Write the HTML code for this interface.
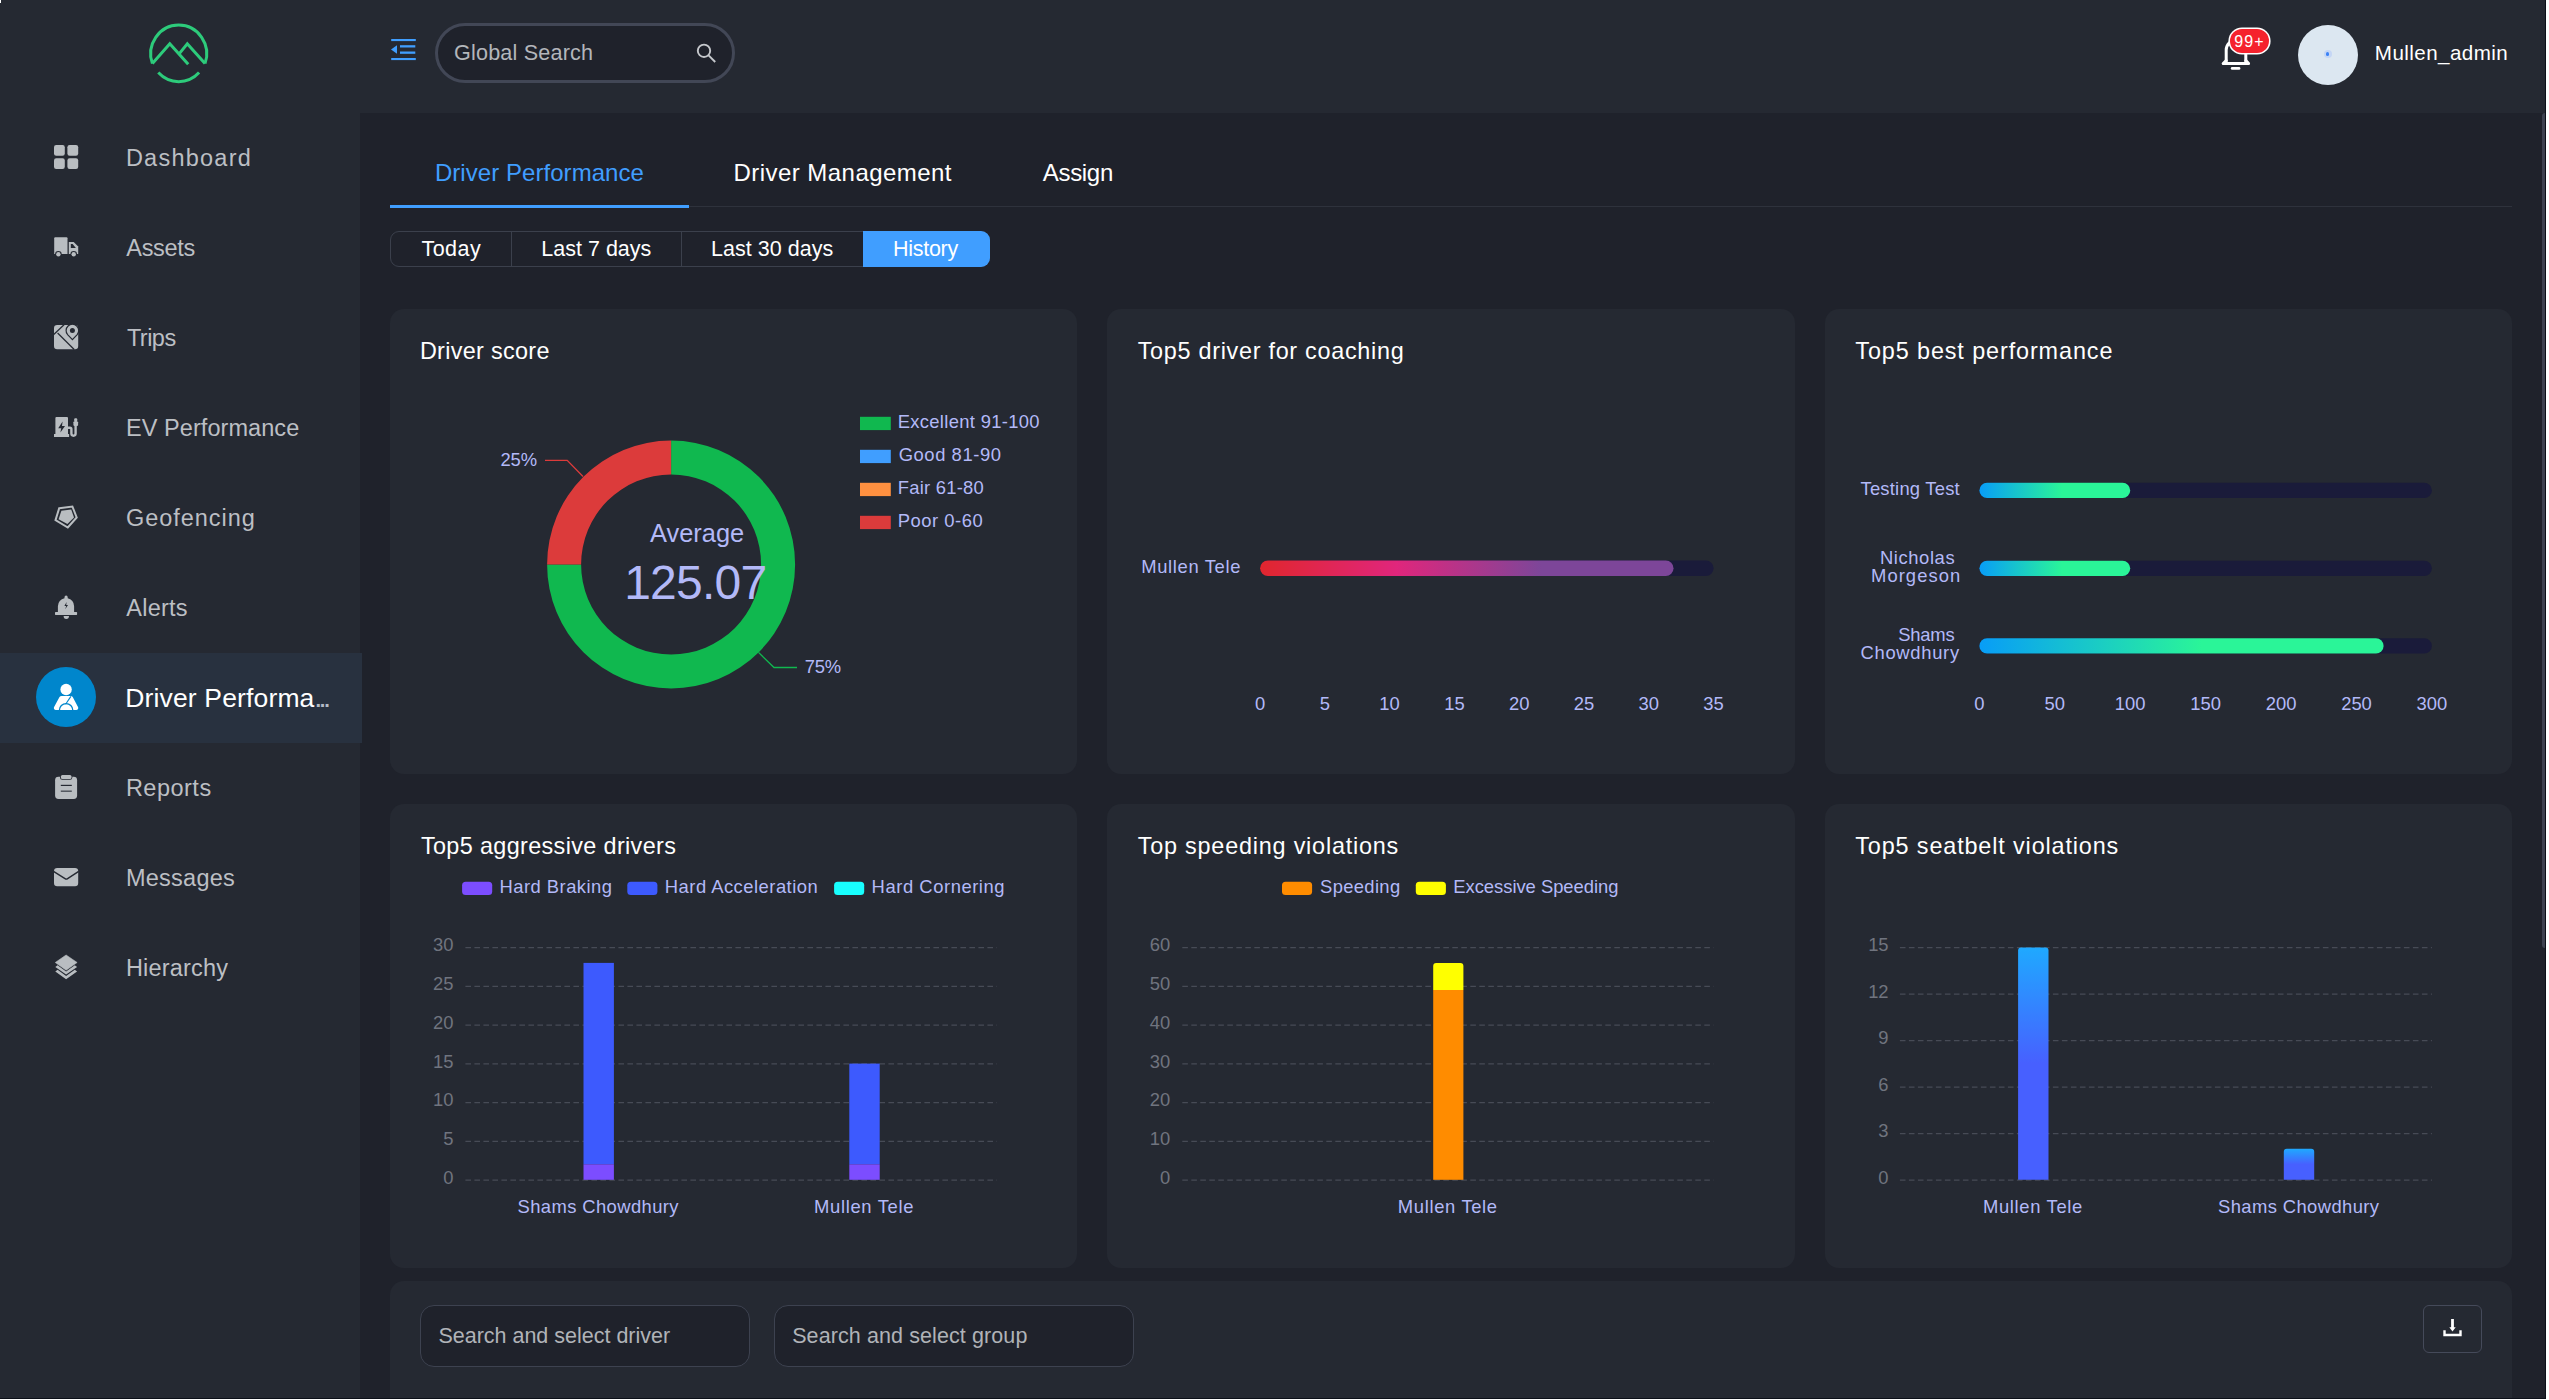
<!DOCTYPE html>
<html lang="en">
<head>
<meta charset="utf-8">
<title>Driver Performance</title>
<style>
html,body{margin:0;padding:0;background:#fff;}
body{font-family:"Liberation Sans", sans-serif;overflow:hidden;}
#app{position:absolute;left:0;top:0;width:2546px;height:1399px;background:#1f222b;overflow:hidden;}
#sidebar{position:absolute;left:0;top:0;width:360px;height:1399px;background:#252932;}
.hdr-bg{position:absolute;left:360px;top:0;width:2186px;height:113px;background:#252932;}
.abs{position:absolute;}
ul.menu,ul.menu li{list-style:none;margin:0;padding:0;}
h1,h2,h3,p{margin:0;padding:0;font-weight:400;}
.card{position:absolute;background:#252932;border-radius:14px;}
.menu-active{position:absolute;left:0;top:653px;width:362px;height:90px;background:#28313f;}
svg{position:absolute;overflow:visible;}
svg text{font-family:"Liberation Sans", sans-serif;}
.inp{position:absolute;box-sizing:border-box;border:1px solid #3d4250;border-radius:14px;background:#1f222b;}
</style>
</head>
<body>
<div id="app">
<nav id="sidebar">
<div class="brand"><svg class="logo" style="left:140px;top:14px" width="78" height="78" viewBox="140 14 78 78" fill="none" stroke="#2dcb7b" stroke-width="3" stroke-linejoin="miter">
<path d="M152.4 63.6 A28 28.7 0 1 1 205.0 63.6"/>
<path d="M158.3 72.6 A28 28.7 0 0 0 199.1 72.6"/>
<path d="M152.4 63.6 L169.8 43.8 L188.2 64.2"/>
<path d="M179.3 53.6 L187.3 43.8 L205.0 63.6"/>
</svg></div>
<ul class="menu">
<li><svg class="mi" style="left:42px;top:133px" width="48" height="48" viewBox="42 133 48 48" fill="#b9bdc1"><rect x="54" y="145" width="10.8" height="10.8" rx="2.2"/><rect x="67.4" y="145" width="10.8" height="10.8" rx="2.2"/><rect x="54" y="158.2" width="10.8" height="10.8" rx="2.2"/><rect x="67.4" y="158.2" width="10.8" height="10.8" rx="2.2"/></svg><span style="position:absolute;left:125.9px;top:147px;font-size:23.5px;line-height:23.5px;letter-spacing:1.238px;color:#bcbfc4;white-space:nowrap">Dashboard</span></li>
<li><svg class="mi" style="left:42px;top:223px" width="48" height="48" viewBox="42 223 48 48" fill="#b9bdc1"><path d="M54.2 238.2 a1 1 0 0 1 1 -1 h11.3 a1 1 0 0 1 1 1 V254.1 H54.2 Z"/>
<path d="M68.8 242 H73.7 L78.2 246.4 V254.1 H68.8 Z"/>
<path d="M70.8 244.1 H72.6 L75.9 247.9 H70.8 Z" fill="#252932"/>
<circle cx="58.4" cy="254.3" r="3.3" fill="#252932"/><circle cx="58.4" cy="254.3" r="2.2"/>
<circle cx="73.7" cy="254.3" r="3.3" fill="#252932"/><circle cx="73.7" cy="254.3" r="2.2"/></svg><span style="position:absolute;left:126.3px;top:237px;font-size:23.5px;line-height:23.5px;letter-spacing:-0.315px;color:#bcbfc4;white-space:nowrap">Assets</span></li>
<li><svg class="mi" style="left:42px;top:313px" width="48" height="48" viewBox="42 313 48 48" fill="#b9bdc1"><rect x="54" y="325" width="24.2" height="24.2" rx="3.2"/>
<path d="M53.5 334.8 L64.3 324.5" stroke="#252932" stroke-width="1.2" fill="none"/>
<path d="M57.6 333 L74.2 349.5" stroke="#252932" stroke-width="1.2" fill="none"/>
<path d="M72.4 339.6 L67.6 334.6 A6.3 6.3 0 1 1 77.2 334.6 Z" stroke="#252932" stroke-width="1.2"/>
<circle cx="72.4" cy="330.6" r="2.5" fill="#252932"/></svg><span style="position:absolute;left:126.9px;top:327px;font-size:23.5px;line-height:23.5px;letter-spacing:-0.525px;color:#bcbfc4;white-space:nowrap">Trips</span></li>
<li><svg class="mi" style="left:42px;top:403px" width="48" height="48" viewBox="42 403 48 48" fill="#b9bdc1"><path d="M55.4 418 a1 1 0 0 1 1 -1 h10.6 a1 1 0 0 1 1 1 V434.1 h1.1 V437 H54 V434.1 h1.4 Z"/>
<path d="M62.6 421.6 L58.2 428.2 H61.2 L60.4 432.6 L65 426 H62 Z" fill="#252932"/>
<path d="M68 427.7 H69.8 a1.6 1.6 0 0 1 1.6 1.6 V433.6 a2.1 2.1 0 0 0 4.2 0 V425.5" fill="none" stroke="#b9bdc1" stroke-width="2.4"/>
<rect x="73.4" y="421.4" width="4.7" height="4.5" rx="0.8"/>
<rect x="74.2" y="418.3" width="3" height="3.6" rx="1"/></svg><span style="position:absolute;left:125.9px;top:417px;font-size:23.5px;line-height:23.5px;letter-spacing:0.074px;color:#bcbfc4;white-space:nowrap">EV Performance</span></li>
<li><svg class="mi" style="left:42px;top:493px" width="48" height="48" viewBox="42 493 48 48" fill="#b9bdc1"><path d="M59.2 508.2 L72.4 506.5 L76.7 517.5 L67.8 527.5 L55.5 520.1 Z" fill="none" stroke="#b9bdc1" stroke-width="2"/>
<path d="M61.4 510.8 L71.2 509.5 L74 517.4 L67.4 524 L58.6 519.3 Z"/></svg><span style="position:absolute;left:125.9px;top:507px;font-size:23.5px;line-height:23.5px;letter-spacing:0.964px;color:#bcbfc4;white-space:nowrap">Geofencing</span></li>
<li><svg class="mi" style="left:42px;top:583px" width="48" height="48" viewBox="42 583 48 48" fill="#b9bdc1"><path d="M57.9 612.5 V606.2 a8.1 8.1 0 0 1 6.6 -8 v-1 a1.6 1.6 0 0 1 3.2 0 v1 a8.1 8.1 0 0 1 6.4 8 V612.5 Z"/>
<rect x="55" y="612.1" width="22.1" height="2.8" rx="0.6"/>
<path d="M63.6 616 H69 a2.7 2.9 0 0 1 -5.4 0 Z"/>
<path d="M66.6 602 L64.4 606 H66.2 L65.2 609.2 L68 605 H66.2 Z" fill="#252932"/></svg><span style="position:absolute;left:126.3px;top:597px;font-size:23.5px;line-height:23.5px;letter-spacing:0.236px;color:#bcbfc4;white-space:nowrap">Alerts</span></li>
<li class="active"><div class="menu-active"></div><div class="abs" style="left:36px;top:667px;width:60px;height:60px;border-radius:50%;background:#0086cc"></div><svg class="mi" style="left:42px;top:673px" width="48" height="48" viewBox="42 673 48 48" fill="#b9bdc1"><g fill="#fff"><circle cx="66.1" cy="689.5" r="5.7"/>
<path d="M61.6 695.9 H70.6 a2.4 2.4 0 0 1 2.1 1.2 L78 707 a2 2 0 0 1 -1.8 3 H55.9 a2 2 0 0 1 -1.8 -3 L59.5 697.1 a2.4 2.4 0 0 1 2.1 -1.2 Z"/>
<path d="M59.4 710.3 a6.7 6.7 0 0 1 13.4 0" fill="none" stroke="#0086cc" stroke-width="1.3"/>
<path d="M70.9 696.4 L65.6 704.2" stroke="#0086cc" stroke-width="1.1" fill="none"/></g></svg><span style="position:absolute;left:125.3px;top:685px;font-size:26.5px;line-height:26.5px;letter-spacing:0.146px;color:#ffffff;white-space:nowrap">Driver Performa</span><span style="position:absolute;left:315.4px;top:690px;font-size:20px;line-height:20px;letter-spacing:-1.107px;color:#b4bbc5;font-weight:700;white-space:nowrap">...</span></li>
<li><svg class="mi" style="left:42px;top:763px" width="48" height="48" viewBox="42 763 48 48" fill="#b9bdc1"><rect x="55.1" y="776.8" width="22" height="22.2" rx="3.4"/>
<rect x="60" y="774.3" width="12.3" height="5.4" rx="2.2" fill="#252932"/>
<rect x="60.9" y="775.1" width="10.6" height="3.8" rx="1.5"/>
<rect x="60.8" y="784.8" width="11" height="1.2" fill="#252932"/>
<rect x="60.8" y="790.5" width="11" height="1.4" fill="#4a4e57"/></svg><span style="position:absolute;left:125.9px;top:777px;font-size:23.5px;line-height:23.5px;letter-spacing:0.494px;color:#bcbfc4;white-space:nowrap">Reports</span></li>
<li><svg class="mi" style="left:42px;top:853px" width="48" height="48" viewBox="42 853 48 48" fill="#b9bdc1"><rect x="54" y="867.9" width="24.2" height="18.3" rx="3.2"/>
<path d="M53.5 871.4 L65 878.7 a2.4 2.4 0 0 0 2.6 0 L78.7 871.4" fill="none" stroke="#252932" stroke-width="1.4"/></svg><span style="position:absolute;left:125.9px;top:867px;font-size:23.5px;line-height:23.5px;letter-spacing:0.264px;color:#bcbfc4;white-space:nowrap">Messages</span></li>
<li><svg class="mi" style="left:42px;top:943px" width="48" height="48" viewBox="42 943 48 48" fill="#b9bdc1"><path d="M66.1 955 L77.1 962.5 L66.1 970.2 L55.3 962.5 Z" stroke="#b9bdc1" stroke-width="0.6" stroke-linejoin="round"/>
<path d="M55.3 966.9 L57.6 965.3 L66.1 971.4 L74.8 965.3 L77.1 966.9 L66.1 974.6 Z"/>
<path d="M55.3 971.4 L57.6 969.8 L66.1 975.9 L74.8 969.8 L77.1 971.4 L66.1 979.2 Z"/></svg><span style="position:absolute;left:125.9px;top:957px;font-size:23.5px;line-height:23.5px;letter-spacing:0.187px;color:#bcbfc4;white-space:nowrap">Hierarchy</span></li>
</ul>
</nav>
<header id="header"><div class="hdr-bg"></div>
<svg style="left:385px;top:34px" width="40" height="32" viewBox="385 34 40 32" fill="#409eff">
<rect x="391.2" y="39" width="24.6" height="2.1"/>
<rect x="400" y="45.2" width="15.3" height="2.3"/>
<rect x="400" y="51.5" width="15.3" height="2.3"/>
<rect x="391.2" y="58" width="24.6" height="2.1"/>
<path d="M391 49.5 L397 45.2 V53.8 Z"/>
</svg>
<div class="abs" style="left:435px;top:23px;width:300px;height:60px;box-sizing:border-box;border:3px solid #424756;border-radius:30px;background:#1f222b"></div>
<span style="position:absolute;left:454.0px;top:42px;font-size:21.6px;line-height:21.6px;letter-spacing:0.181px;color:#b3b6bb;white-space:nowrap">Global Search</span>
<svg style="left:690px;top:38px" width="32" height="32" viewBox="690 38 32 32" fill="none" stroke="#c5c8cc" stroke-width="1.9">
<circle cx="704" cy="50.8" r="6.2"/><path d="M708.6 55.4 L715.2 62"/>
</svg>
<svg style="left:2215px;top:30px" width="50" height="46" viewBox="2215 30 50 46" fill="none" stroke="#fff" stroke-width="3" stroke-linejoin="round" stroke-linecap="round">
<path d="M2226.2 63.4 V50 a9.8 9.8 0 0 1 19.6 0 V63.4"/>
<path d="M2226.2 60.5 L2223.2 63.6 H2248.6 L2245.8 60.5"/>
<path d="M2232.2 68.4 H2239" stroke-width="2.8"/>
</svg>
<div class="abs" style="left:2229.6px;top:28.8px;width:39px;height:24px;border-radius:12px;background:#f5222d;box-shadow:0 0 0 1.6px #fff"></div>
<span style="position:absolute;left:2234.2px;top:34px;font-size:16px;line-height:16px;letter-spacing:1.152px;color:#ffffff;white-space:nowrap">99+</span>
<div class="abs" style="left:2298px;top:25px;width:60px;height:60px;border-radius:50%;background:#dce7f1"></div>
<div class="abs" style="left:2323.5px;top:50px;width:8px;height:8px;border-radius:50%;background:#c5d6f5"></div>
<div class="abs" style="left:2325.7px;top:52.2px;width:3.6px;height:3.6px;border-radius:50%;background:#3b82f6"></div>
<span style="position:absolute;left:2374.8px;top:43px;font-size:20.6px;line-height:20.6px;letter-spacing:0.431px;color:#ffffff;white-space:nowrap">Mullen_admin</span>
</header>
<div class="abs" style="left:2541.5px;top:113px;width:5px;height:835px;border-radius:3px 0 0 3px;background:#3d4250"></div>
<main id="main">
<div class="tabs" role="tablist">
<div class="abs" style="left:390px;top:206px;width:2122px;height:1px;background:#2e323c"></div>
<div class="abs" style="left:390px;top:205px;width:299px;height:3px;background:#409eff"></div>
<span style="position:absolute;left:434.9px;top:161px;font-size:24px;line-height:24px;letter-spacing:0.058px;color:#409eff;white-space:nowrap">Driver Performance</span>
<span style="position:absolute;left:733.6px;top:161px;font-size:24px;line-height:24px;letter-spacing:0.445px;color:#ffffff;white-space:nowrap">Driver Management</span>
<span style="position:absolute;left:1042.8px;top:161px;font-size:24px;line-height:24px;letter-spacing:-0.317px;color:#ffffff;white-space:nowrap">Assign</span>
</div>
<div class="range" role="radiogroup">
<div class="abs" style="left:390px;top:231px;width:600px;height:36px;box-sizing:border-box;border:1px solid #3b404c;border-radius:9px;"></div>
<div class="abs" style="left:510.5px;top:231px;width:1px;height:36px;background:#3b404c"></div>
<div class="abs" style="left:680.5px;top:231px;width:1px;height:36px;background:#3b404c"></div>
<div class="abs" style="left:862.5px;top:231px;width:127.5px;height:36px;background:#409eff;border-radius:0 9px 9px 0"></div>
<span style="position:absolute;left:421.4px;top:239px;font-size:21.5px;line-height:21.5px;letter-spacing:0.495px;color:#ffffff;white-space:nowrap">Today</span>
<span style="position:absolute;left:541.3px;top:239px;font-size:21.5px;line-height:21.5px;letter-spacing:0.009px;color:#ffffff;white-space:nowrap">Last 7 days</span>
<span style="position:absolute;left:711.0px;top:239px;font-size:21.5px;line-height:21.5px;letter-spacing:0.04px;color:#ffffff;white-space:nowrap">Last 30 days</span>
<span style="position:absolute;left:893.1px;top:239px;font-size:21.5px;line-height:21.5px;letter-spacing:-0.291px;color:#ffffff;white-space:nowrap">History</span>
</div>
<section class="panel">
<div class="card" style="left:390px;top:309px;width:687px;height:465px"></div>
<h3 style="position:absolute;left:419.9px;top:340px;font-size:23.4px;line-height:23.4px;letter-spacing:0.313px;color:#ffffff;white-space:nowrap">Driver score</h3>
<svg style="left:390px;top:310px" width="687" height="463" viewBox="390 310 687 463" >
<path d="M671.1 440.5 A124.0 124.0 0 1 1 547.1 564.5 L581.1 564.5 A90.0 90.0 0 1 0 671.1 474.5 Z" fill="#10b84f"/>
<path d="M547.1 564.5 A124.0 124.0 0 0 1 671.1 440.5 L671.1 474.5 A90.0 90.0 0 0 0 581.1 564.5 Z" fill="#dc3b3b"/>
<path d="M583 476.5 L567.2 460.4 H545" fill="none" stroke="#dc3b3b" stroke-width="1.3"/>
<path d="M758.5 652.4 L774 667.5 H797" fill="none" stroke="#10b84f" stroke-width="1.3"/>
<text x="500.4" y="465.9" font-size="18.4" fill="#b3b9f8" text-anchor="start" letter-spacing="-0.078">25%</text>
<text x="804.8" y="672.6" font-size="18.4" fill="#b3b9f8" text-anchor="start" letter-spacing="-0.228">75%</text>
<text x="649.9" y="541.7" font-size="25.4" fill="#b3b9f8" text-anchor="start" letter-spacing="0.035">Average</text>
<text x="624.2" y="599.3" font-size="48" fill="#b3b9f8" text-anchor="start" letter-spacing="-0.783">125.07</text>
<rect x="860" y="416.8" width="30.8" height="13.3" fill="#10b84f"/>
<text x="897.7" y="428.0" font-size="18.4" fill="#b3b9f8" text-anchor="start" letter-spacing="0.322">Excellent 91-100</text>
<rect x="860" y="449.8" width="30.8" height="13.3" fill="#409eff"/>
<text x="898.7" y="461.0" font-size="18.4" fill="#b3b9f8" text-anchor="start" letter-spacing="0.566">Good 81-90</text>
<rect x="860" y="482.8" width="30.8" height="13.3" fill="#ff9040"/>
<text x="897.7" y="494.0" font-size="18.4" fill="#b3b9f8" text-anchor="start" letter-spacing="0.246">Fair 61-80</text>
<rect x="860" y="515.8" width="30.8" height="13.3" fill="#dc3b3b"/>
<text x="897.7" y="527.0" font-size="18.4" fill="#b3b9f8" text-anchor="start" letter-spacing="0.533">Poor 0-60</text>
</svg>
</section>
<section class="panel">
<div class="card" style="left:1107px;top:309px;width:688px;height:465px"></div>
<h3 style="position:absolute;left:1137.7px;top:340px;font-size:23.4px;line-height:23.4px;letter-spacing:0.712px;color:#ffffff;white-space:nowrap">Top5 driver for coaching</h3>
<svg style="left:1107px;top:310px" width="687" height="463" viewBox="1107 310 687 463" >
<defs><linearGradient id="gCoach" x1="0" y1="0" x2="1" y2="0">
<stop offset="0" stop-color="#e0262e"/><stop offset="0.33" stop-color="#e0267c"/><stop offset="0.68" stop-color="#7d4699"/><stop offset="1" stop-color="#7d4699"/></linearGradient></defs>
<rect x="1260.1" y="560.5" width="453.5" height="15.5" rx="7.75" fill="#1a1b3a"/>
<rect x="1260.1" y="560.5" width="413.4" height="15.5" rx="7.75" fill="url(#gCoach)"/>
<text x="1141.2" y="573.2" font-size="18.4" fill="#b3b9f8" text-anchor="start" letter-spacing="0.661">Mullen Tele</text>
<text x="1260.0" y="710.0" font-size="18.4" fill="#b3b9f8" text-anchor="middle">0</text>
<text x="1324.8" y="710.0" font-size="18.4" fill="#b3b9f8" text-anchor="middle">5</text>
<text x="1389.6" y="710.0" font-size="18.4" fill="#b3b9f8" text-anchor="middle">10</text>
<text x="1454.4" y="710.0" font-size="18.4" fill="#b3b9f8" text-anchor="middle">15</text>
<text x="1519.2" y="710.0" font-size="18.4" fill="#b3b9f8" text-anchor="middle">20</text>
<text x="1584.0" y="710.0" font-size="18.4" fill="#b3b9f8" text-anchor="middle">25</text>
<text x="1648.8" y="710.0" font-size="18.4" fill="#b3b9f8" text-anchor="middle">30</text>
<text x="1713.6" y="710.0" font-size="18.4" fill="#b3b9f8" text-anchor="middle">35</text>
</svg>
</section>
<section class="panel">
<div class="card" style="left:1825px;top:309px;width:687px;height:465px"></div>
<h3 style="position:absolute;left:1855.3px;top:340px;font-size:23.4px;line-height:23.4px;letter-spacing:0.893px;color:#ffffff;white-space:nowrap">Top5 best performance</h3>
<svg style="left:1825px;top:310px" width="687" height="463" viewBox="1825 310 687 463" >
<defs><linearGradient id="gBest" x1="0" y1="0" x2="1" y2="0">
<stop offset="0" stop-color="#089df7"/><stop offset="0.55" stop-color="#2af598"/><stop offset="1" stop-color="#2af598"/></linearGradient></defs>
<rect x="1979.4" y="482.8" width="452.5" height="15.2" rx="7.6" fill="#1a1b3a"/>
<rect x="1979.4" y="482.8" width="150.8" height="15.2" rx="7.6" fill="url(#gBest)"/>
<rect x="1979.4" y="560.7" width="452.5" height="15.2" rx="7.6" fill="#1a1b3a"/>
<rect x="1979.4" y="560.7" width="150.8" height="15.2" rx="7.6" fill="url(#gBest)"/>
<rect x="1979.4" y="638.3" width="452.5" height="15.2" rx="7.6" fill="#1a1b3a"/>
<rect x="1979.4" y="638.3" width="404.2" height="15.2" rx="7.6" fill="url(#gBest)"/>
<text x="1860.5" y="495.1" font-size="18.4" fill="#b3b9f8" text-anchor="start" letter-spacing="0.219">Testing Test</text>
<text x="1880.0" y="563.6" font-size="18.4" fill="#b3b9f8" text-anchor="start" letter-spacing="0.581">Nicholas</text>
<text x="1871.1" y="581.8" font-size="18.4" fill="#b3b9f8" text-anchor="start" letter-spacing="1.036">Morgeson</text>
<text x="1898.2" y="640.7" font-size="18.4" fill="#b3b9f8" text-anchor="start" letter-spacing="-0.21">Shams</text>
<text x="1860.5" y="658.9" font-size="18.4" fill="#b3b9f8" text-anchor="start" letter-spacing="0.697">Chowdhury</text>
<text x="1979.4" y="710.0" font-size="18.4" fill="#b3b9f8" text-anchor="middle">0</text>
<text x="2054.8" y="710.0" font-size="18.4" fill="#b3b9f8" text-anchor="middle">50</text>
<text x="2130.2" y="710.0" font-size="18.4" fill="#b3b9f8" text-anchor="middle">100</text>
<text x="2205.7" y="710.0" font-size="18.4" fill="#b3b9f8" text-anchor="middle">150</text>
<text x="2281.1" y="710.0" font-size="18.4" fill="#b3b9f8" text-anchor="middle">200</text>
<text x="2356.5" y="710.0" font-size="18.4" fill="#b3b9f8" text-anchor="middle">250</text>
<text x="2431.9" y="710.0" font-size="18.4" fill="#b3b9f8" text-anchor="middle">300</text>
</svg>
</section>
<section class="panel">
<div class="card" style="left:390px;top:804px;width:687px;height:464px"></div>
<h3 style="position:absolute;left:420.9px;top:835px;font-size:23.4px;line-height:23.4px;letter-spacing:0.363px;color:#ffffff;white-space:nowrap">Top5 aggressive drivers</h3>
<svg style="left:390px;top:804px" width="687" height="464" viewBox="390 804 687 464" >
<rect x="462.1" y="881.7" width="30.1" height="13.4" rx="3.6" fill="#7c4dff"/>
<text x="499.6" y="892.9" font-size="18.4" fill="#b3b9f8" text-anchor="start" letter-spacing="0.455">Hard Braking</text>
<rect x="627.3" y="881.7" width="30.1" height="13.4" rx="3.6" fill="#3d5afe"/>
<text x="664.8" y="892.9" font-size="18.4" fill="#b3b9f8" text-anchor="start" letter-spacing="0.485">Hard Acceleration</text>
<rect x="834.1" y="881.7" width="30.1" height="13.4" rx="3.6" fill="#18ffff"/>
<text x="871.6" y="892.9" font-size="18.4" fill="#b3b9f8" text-anchor="start" letter-spacing="0.554">Hard Cornering</text>
<path d="M465.4 1180.2 H996.8" stroke="#474b56" stroke-width="1.3" stroke-dasharray="5.6 3.4" fill="none"/>
<path d="M465.4 1141.4 H996.8" stroke="#474b56" stroke-width="1.3" stroke-dasharray="5.6 3.4" fill="none"/>
<path d="M465.4 1102.7 H996.8" stroke="#474b56" stroke-width="1.3" stroke-dasharray="5.6 3.4" fill="none"/>
<path d="M465.4 1063.9 H996.8" stroke="#474b56" stroke-width="1.3" stroke-dasharray="5.6 3.4" fill="none"/>
<path d="M465.4 1025.1 H996.8" stroke="#474b56" stroke-width="1.3" stroke-dasharray="5.6 3.4" fill="none"/>
<path d="M465.4 986.4 H996.8" stroke="#474b56" stroke-width="1.3" stroke-dasharray="5.6 3.4" fill="none"/>
<path d="M465.4 947.6 H996.8" stroke="#474b56" stroke-width="1.3" stroke-dasharray="5.6 3.4" fill="none"/>
<text x="453.4" y="1183.8" font-size="18.4" fill="#70747f" text-anchor="end">0</text>
<text x="453.4" y="1145.0" font-size="18.4" fill="#70747f" text-anchor="end">5</text>
<text x="453.4" y="1106.3" font-size="18.4" fill="#70747f" text-anchor="end">10</text>
<text x="453.4" y="1067.5" font-size="18.4" fill="#70747f" text-anchor="end">15</text>
<text x="453.4" y="1028.7" font-size="18.4" fill="#70747f" text-anchor="end">20</text>
<text x="453.4" y="990.0" font-size="18.4" fill="#70747f" text-anchor="end">25</text>
<text x="453.4" y="951.2" font-size="18.4" fill="#70747f" text-anchor="end">30</text>
<rect x="583.5" y="962.9" width="30.4" height="201.4" fill="#3d5afe"/>
<rect x="583.5" y="1164.3" width="30.4" height="15.5" fill="#7c4dff"/>
<rect x="849.3" y="1063.6" width="30.4" height="100.7" fill="#3d5afe"/>
<rect x="849.3" y="1164.3" width="30.4" height="15.5" fill="#7c4dff"/>
<text x="517.5" y="1213.0" font-size="18.4" fill="#b3b9f8" text-anchor="start" letter-spacing="0.402">Shams Chowdhury</text>
<text x="814.1" y="1213.0" font-size="18.4" fill="#b3b9f8" text-anchor="start" letter-spacing="0.661">Mullen Tele</text>
</svg>
</section>
<section class="panel">
<div class="card" style="left:1107px;top:804px;width:688px;height:464px"></div>
<h3 style="position:absolute;left:1137.7px;top:835px;font-size:23.4px;line-height:23.4px;letter-spacing:0.792px;color:#ffffff;white-space:nowrap">Top speeding violations</h3>
<svg style="left:1107px;top:804px" width="687" height="464" viewBox="1107 804 687 464" >
<rect x="1282" y="881.7" width="30.1" height="13.4" rx="3.6" fill="#ff8c00"/>
<text x="1320.1" y="892.9" font-size="18.4" fill="#b3b9f8" text-anchor="start" letter-spacing="0.33">Speeding</text>
<rect x="1415.8" y="881.7" width="30.1" height="13.4" rx="3.6" fill="#ffff00"/>
<text x="1453.3" y="892.9" font-size="18.4" fill="#b3b9f8" text-anchor="start" letter-spacing="-0.029">Excessive Speeding</text>
<path d="M1182.3 1180.2 H1713.6" stroke="#474b56" stroke-width="1.3" stroke-dasharray="5.6 3.4" fill="none"/>
<path d="M1182.3 1141.4 H1713.6" stroke="#474b56" stroke-width="1.3" stroke-dasharray="5.6 3.4" fill="none"/>
<path d="M1182.3 1102.7 H1713.6" stroke="#474b56" stroke-width="1.3" stroke-dasharray="5.6 3.4" fill="none"/>
<path d="M1182.3 1063.9 H1713.6" stroke="#474b56" stroke-width="1.3" stroke-dasharray="5.6 3.4" fill="none"/>
<path d="M1182.3 1025.1 H1713.6" stroke="#474b56" stroke-width="1.3" stroke-dasharray="5.6 3.4" fill="none"/>
<path d="M1182.3 986.4 H1713.6" stroke="#474b56" stroke-width="1.3" stroke-dasharray="5.6 3.4" fill="none"/>
<path d="M1182.3 947.6 H1713.6" stroke="#474b56" stroke-width="1.3" stroke-dasharray="5.6 3.4" fill="none"/>
<text x="1170.3" y="1183.8" font-size="18.4" fill="#70747f" text-anchor="end">0</text>
<text x="1170.3" y="1145.0" font-size="18.4" fill="#70747f" text-anchor="end">10</text>
<text x="1170.3" y="1106.3" font-size="18.4" fill="#70747f" text-anchor="end">20</text>
<text x="1170.3" y="1067.5" font-size="18.4" fill="#70747f" text-anchor="end">30</text>
<text x="1170.3" y="1028.7" font-size="18.4" fill="#70747f" text-anchor="end">40</text>
<text x="1170.3" y="990.0" font-size="18.4" fill="#70747f" text-anchor="end">50</text>
<text x="1170.3" y="951.2" font-size="18.4" fill="#70747f" text-anchor="end">60</text>
<rect x="1433.2" y="990.0" width="30.2" height="189.8" fill="#ff8c00"/>
<path d="M1433.2 990.0 V965.9 a3 3 0 0 1 3 -3 h24.2 a3 3 0 0 1 3 3 V990.0 Z" fill="#ffff00"/>
<text x="1397.8" y="1213.0" font-size="18.4" fill="#b3b9f8" text-anchor="start" letter-spacing="0.661">Mullen Tele</text>
</svg>
</section>
<section class="panel">
<div class="card" style="left:1825px;top:804px;width:687px;height:464px"></div>
<h3 style="position:absolute;left:1855.3px;top:835px;font-size:23.4px;line-height:23.4px;letter-spacing:0.863px;color:#ffffff;white-space:nowrap">Top5 seatbelt violations</h3>
<svg style="left:1825px;top:804px" width="687" height="464" viewBox="1825 804 687 464" >
<defs><linearGradient id="gSeat" x1="0" y1="0" x2="0" y2="1">
<stop offset="0" stop-color="#1fa9ff"/><stop offset="0.5" stop-color="#4760ff"/><stop offset="1" stop-color="#4760ff"/></linearGradient></defs>
<path d="M1899.9 1180.2 H2431.9" stroke="#474b56" stroke-width="1.3" stroke-dasharray="5.6 3.4" fill="none"/>
<path d="M1899.9 1133.7 H2431.9" stroke="#474b56" stroke-width="1.3" stroke-dasharray="5.6 3.4" fill="none"/>
<path d="M1899.9 1087.2 H2431.9" stroke="#474b56" stroke-width="1.3" stroke-dasharray="5.6 3.4" fill="none"/>
<path d="M1899.9 1040.6 H2431.9" stroke="#474b56" stroke-width="1.3" stroke-dasharray="5.6 3.4" fill="none"/>
<path d="M1899.9 994.1 H2431.9" stroke="#474b56" stroke-width="1.3" stroke-dasharray="5.6 3.4" fill="none"/>
<path d="M1899.9 947.6 H2431.9" stroke="#474b56" stroke-width="1.3" stroke-dasharray="5.6 3.4" fill="none"/>
<text x="1888.6" y="1183.8" font-size="18.4" fill="#70747f" text-anchor="end">0</text>
<text x="1888.6" y="1137.3" font-size="18.4" fill="#70747f" text-anchor="end">3</text>
<text x="1888.6" y="1090.8" font-size="18.4" fill="#70747f" text-anchor="end">6</text>
<text x="1888.6" y="1044.2" font-size="18.4" fill="#70747f" text-anchor="end">9</text>
<text x="1888.6" y="997.7" font-size="18.4" fill="#70747f" text-anchor="end">12</text>
<text x="1888.6" y="951.2" font-size="18.4" fill="#70747f" text-anchor="end">15</text>
<path d="M2018.1 1179.8 V950.4 a3 3 0 0 1 3 -3 h24.4 a3 3 0 0 1 3 3 V1179.8 Z" fill="url(#gSeat)"/>
<path d="M2283.8 1179.8 V1151.8 a3 3 0 0 1 3 -3 h24.4 a3 3 0 0 1 3 3 V1179.8 Z" fill="url(#gSeat)"/>
<text x="1983.0" y="1213.0" font-size="18.4" fill="#b3b9f8" text-anchor="start" letter-spacing="0.661">Mullen Tele</text>
<text x="2218.0" y="1213.0" font-size="18.4" fill="#b3b9f8" text-anchor="start" letter-spacing="0.402">Shams Chowdhury</text>
</svg>
</section>
<section class="panel filters">
<div class="card" style="left:390px;top:1281px;width:2122px;height:160px"></div>
<div class="inp" style="left:420px;top:1305px;width:330px;height:62px"></div>
<div class="inp" style="left:774px;top:1305px;width:360px;height:62px"></div>
<span style="position:absolute;left:438.4px;top:1326px;font-size:21.5px;line-height:21.5px;letter-spacing:-0.003px;color:#b0b3b8;white-space:nowrap">Search and select driver</span>
<span style="position:absolute;left:792.2px;top:1326px;font-size:21.5px;line-height:21.5px;letter-spacing:0.095px;color:#b0b3b8;white-space:nowrap">Search and select group</span>
<div class="abs" style="left:2423px;top:1305px;width:59px;height:48px;box-sizing:border-box;border:1px solid #454a5a;border-radius:6px"></div>
<svg style="left:2440px;top:1315px" width="26" height="26" viewBox="2440 1315 26 26" fill="none" stroke="#fff">
<path d="M2452.5 1319 V1329" stroke-width="2.8"/>
<path d="M2449.3 1327.2 H2455.7 L2452.5 1331.6 Z" fill="#fff" stroke="none"/>
<path d="M2444.5 1330.2 V1335 H2460.5 V1330.2" stroke-width="2.4"/>
</svg>
</section>
</main>
<div class="abs" style="left:2545px;top:0;width:1px;height:1399px;background:#0c1019"></div>
<div class="abs" style="left:0;top:1398px;width:2546px;height:1px;background:#0c1019"></div>
<div class="abs" style="left:0;top:0;width:1px;height:3px;background:#fff"></div>
</div>
</body>
</html>
